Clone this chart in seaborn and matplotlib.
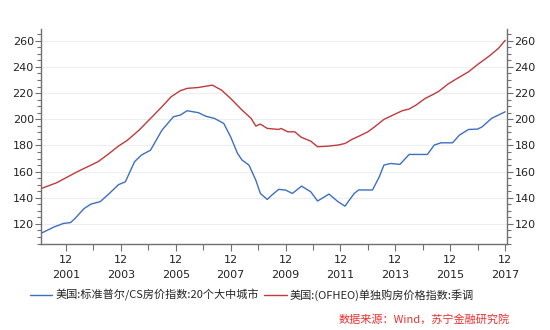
import matplotlib
matplotlib.use("Agg")
import matplotlib.pyplot as plt
import seaborn as sns
import pandas as pd
import numpy as np
from matplotlib.lines import Line2D

# ---- data (month, index value) ----
cs_dates = ["2001-01", "2001-07", "2001-11", "2002-02", "2002-04", "2002-08", "2002-11",
            "2003-03", "2003-07", "2003-11", "2004-02", "2004-06", "2004-09", "2005-01",
            "2005-06", "2005-11", "2006-02", "2006-05", "2006-10", "2007-01", "2007-05",
            "2007-09", "2007-12", "2008-03", "2008-05", "2008-08", "2008-11", "2009-01",
            "2009-04", "2009-06", "2009-09", "2009-12", "2010-03", "2010-07", "2010-11",
            "2011-02", "2011-07", "2011-11", "2012-02", "2012-06", "2012-08", "2013-02",
            "2013-05", "2013-07", "2013-10", "2014-02", "2014-06", "2014-10", "2015-02",
            "2015-05", "2015-08", "2016-01", "2016-04", "2016-08", "2016-12", "2017-02",
            "2017-06", "2017-09", "2017-12"]
cs_values = [112.7, 117.8, 120.4, 121.0, 124.2, 131.8, 135.2,
             137.0, 143.3, 150.0, 152.2, 167.5, 172.6, 176.4,
             191.7, 201.9, 203.2, 206.5, 205.0, 202.4, 200.6,
             196.8, 186.6, 173.9, 168.8, 165.0, 153.5, 143.3,
             138.7, 142.0, 146.4, 145.9, 143.3, 148.9, 144.6,
             137.5, 142.8, 136.9, 133.6, 143.3, 146.0, 145.9,
             156.1, 165.0, 166.2, 165.5, 173.1, 173.1, 173.1,
             180.3, 182.0, 182.0, 187.9, 192.2, 192.5, 194.3,
             200.6, 203.2, 205.7]

ofheo_dates = ["2001-01", "2001-08", "2002-05", "2003-02", "2003-06", "2003-11", "2004-03",
               "2004-08", "2005-01", "2005-06", "2005-10", "2006-02", "2006-05", "2006-10",
               "2007-04", "2007-08", "2007-12", "2008-05", "2008-09", "2008-11", "2009-01",
               "2009-04", "2009-09", "2009-10", "2010-01", "2010-04", "2010-07", "2010-11",
               "2011-02", "2011-07", "2011-11", "2012-02", "2012-05", "2012-08", "2012-12",
               "2013-03", "2013-07", "2013-10", "2014-03", "2014-06", "2014-09", "2015-01",
               "2015-04", "2015-07", "2015-11", "2016-03", "2016-08", "2016-12", "2017-05",
               "2017-09", "2017-12"]
ofheo_values = [146.9, 151.5, 159.9, 167.5, 172.6, 179.5, 184.1,
                191.7, 200.6, 209.6, 217.2, 221.8, 223.6, 224.3,
                226.1, 222.3, 215.9, 207.0, 200.6, 194.8, 196.3,
                193.0, 192.2, 193.0, 190.4, 190.4, 186.1, 183.3,
                179.0, 179.5, 180.3, 181.5, 184.6, 187.0, 190.4,
                194.3, 199.9, 202.4, 206.5, 207.8, 210.8, 215.9,
                218.5, 221.4, 226.9, 231.2, 236.3, 241.9, 248.3,
                254.1, 260.3]

series_names = ["美国:标准普尔/CS房价指数:20个大中城市", "美国:(OFHEO)单独购房价格指数:季调"]
series_colors = ["#3d6fc2", "#c0393b"]
year_labels = ["2001", "2003", "2005", "2007", "2009", "2011", "2013", "2015", "2017"]
y_ticks = [120, 140, 160, 180, 200, 220, 240, 260]
source_text = "数据来源：Wind，苏宁金融研究院"


def month_index(s):
    y, m = s.split("-")
    return (int(y) - 2001) * 12 + int(m) - 1


df = pd.concat([
    pd.DataFrame({"m": [month_index(d) for d in cs_dates], "v": cs_values, "s": series_names[0]}),
    pd.DataFrame({"m": [month_index(d) for d in ofheo_dates], "v": ofheo_values, "s": series_names[1]}),
])

sns.set_style("white")
plt.rcParams["font.family"] = ["DejaVu Sans", "Noto Sans CJK SC"]

fig = plt.figure(figsize=(5.5, 3.3), dpi=100)
ax = fig.add_axes([0.074, 0.26, 0.8487, 0.651])

sns.lineplot(data=df, x="m", y="v", hue="s", palette=series_colors,
             hue_order=series_names, ax=ax, linewidth=1.0, legend=False)

ax.set_xlim(0, 204)
ax.set_ylim(104.5, 268.7)
ax.set_xlabel("")
ax.set_ylabel("")

major_x = [11 + 24 * i for i in range(len(year_labels))]
ax.set_xticks(major_x)
ax.set_xticklabels([f"12\n{y}" for y in year_labels], fontsize=8, linespacing=1.6)
ax.set_xticks([23 + 24 * i for i in range(len(year_labels) - 1)], minor=True)

ax.set_yticks(y_ticks)
ax.set_yticklabels([str(v) for v in y_ticks], fontsize=8)
ax.set_yticks(np.arange(105, 269, 5), minor=True)

axis_color = "#707070"
for side in ["left", "right", "bottom"]:
    ax.spines[side].set_visible(True)
    ax.spines[side].set_color(axis_color)
    ax.spines[side].set_linewidth(1.0)
ax.spines["top"].set_visible(False)

ax.tick_params(axis="y", which="both", direction="out", left=True, right=True,
               labelleft=True, labelright=True, color=axis_color, labelcolor="#222222", pad=1)
ax.tick_params(axis="y", which="major", length=4, width=0.8)
ax.tick_params(axis="y", which="minor", length=3, width=0.8)
ax.tick_params(axis="x", which="both", direction="out", bottom=True, color=axis_color,
               labelcolor="#222222", pad=3)
ax.tick_params(axis="x", which="major", length=5, width=0.8)
ax.tick_params(axis="x", which="minor", length=4, width=0.8)

ax.grid(axis="y", which="major", color="#eeeeee", linewidth=0.8)
ax.set_axisbelow(True)

handles = [Line2D([0], [0], color=c, lw=1.0) for c in series_colors]
fig.legend(handles, series_names, loc="center", bbox_to_anchor=(0.458, 0.106), ncol=2,
           frameon=False, handlelength=2.0, handletextpad=0.3, columnspacing=0.5,
           prop={"family": ["Noto Sans CJK SC", "DejaVu Sans"], "size": 8})

fig.text(0.927, 0.033, source_text, ha="right", va="center", color="#ec3030",
         fontsize=8, family=["Noto Sans CJK SC", "DejaVu Sans"], style="italic")

fig.savefig("out.png", dpi=100)
